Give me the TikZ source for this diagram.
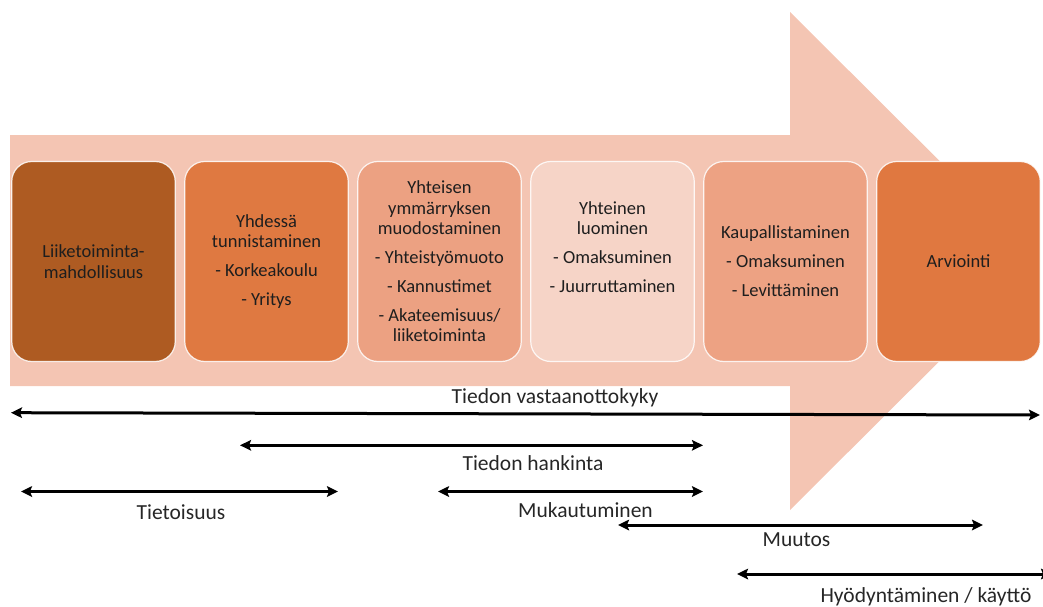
\documentclass[tikz,border=0pt]{standalone}
\usepackage{fontspec}
\setmainfont{Carlito}
\usetikzlibrary{arrows.meta}

\definecolor{arrowbg}{HTML}{F4C5B3}
\definecolor{stepA}{HTML}{AE5B22}
\definecolor{stepB}{HTML}{DF7941}
\definecolor{stepC}{HTML}{ECA182}
\definecolor{stepD}{HTML}{F6D4C7}
\definecolor{stepE}{HTML}{EDA283}
\definecolor{stepF}{HTML}{E07840}
\definecolor{ink}{HTML}{1E1E1E}
\definecolor{labelink}{HTML}{262626}

\tikzset{
  phase/.style={draw=white, draw opacity=0.85, line width=1.2pt,
    rounded corners=20pt, minimum width=163.5pt, minimum height=200pt,
    inner sep=0pt},
  phasetext/.style={align=center, text=ink, inner sep=0pt,
    font=\fontsize{18.5}{20.3}\selectfont},
  tipshape/.tip={Stealth[length=11pt,width=10.5pt,inset=2pt]},
  span/.style={line width=3pt, tipshape-tipshape},
  spanlabel/.style={text=labelink, inner sep=0pt, font=\fontsize{21.5}{24}\selectfont}
}

\begin{document}
\begin{tikzpicture}[x=1pt, y=-1pt]
  \useasboundingbox (0,0) rectangle (1043,607);

  % Large background arrow
  \fill[arrowbg] (10,135) -- (790,135) -- (790,12) -- (1040,261)
    -- (790,510) -- (790,386) -- (10,386) -- cycle;

  % Phase boxes
  \node[phase, fill=stepA] (b1) at (93.5,261.5) {};
  \node[phase, fill=stepB] (b2) at (266.5,261.5) {};
  \node[phase, fill=stepC] (b3) at (439.5,261.5) {};
  \node[phase, fill=stepD] (b4) at (612.5,261.5) {};
  \node[phase, fill=stepE] (b5) at (785.5,261.5) {};
  \node[phase, fill=stepF] (b6) at (958.5,261.5) {};

  % Phase texts
  \node[phasetext] (t1) at (b1.center) {Liiketoiminta-\\mahdollisuus};
  \node[phasetext] (t2) at (b2.center) {Yhdessä\\tunnistaminen\\[8.7pt]- Korkeakoulu\\[8.7pt]- Yritys};
  \node[phasetext] (t3) at (b3.center) {Yhteisen\\ymmärryksen\\muodostaminen\\[8.7pt]- Yhteistyömuoto\\[8.7pt]- Kannustimet\\[8.7pt]- Akateemisuus/\\liiketoiminta};
  \node[phasetext] (t4) at ([yshift=14.5pt]b4.center) {Yhteinen\\luominen\\[8.7pt]- Omaksuminen\\[8.7pt]- Juurruttaminen};
  \node[phasetext] (t5) at (b5.center) {Kaupallistaminen\\[8.7pt]- Omaksuminen\\[8.7pt]- Levittäminen};
  \node[phasetext] (t6) at (b6.center) {Arviointi};

  % Span end points
  \coordinate (s1a) at (11,412.7);  \coordinate (s1b) at (1040,415);
  \coordinate (s2a) at (240,445.3); \coordinate (s2b) at (703,445.3);
  \coordinate (s3a) at (21,491.5);  \coordinate (s3b) at (338,491.5);
  \coordinate (s4a) at (438,491.5); \coordinate (s4b) at (703,491.5);
  \coordinate (s5a) at (618,525);   \coordinate (s5b) at (983,525);
  \coordinate (s6a) at (737,574);   \coordinate (s6b) at (1052,574);

  % Spans
  \draw[span] (s1a) -- (s1b);
  \draw[span] (s2a) -- (s2b);
  \draw[span] (s3a) -- (s3b);
  \draw[span] (s4a) -- (s4b);
  \draw[span] (s5a) -- (s5b);
  \draw[span] (s6a) -- (s6b);

  % Span labels
  \node[spanlabel] (l1) at (555,398) {Tiedon vastaanottokyky};
  \node[spanlabel] (l2) at (533,463.5) {Tiedon hankinta};
  \node[spanlabel] (l3) at (181,512) {Tietoisuus};
  \node[spanlabel] (l4) at (585.5,510) {Mukautuminen};
  \node[spanlabel] (l5) at (796.5,540) {Muutos};
  \node[spanlabel] (l6) at (926,597) {Hyödyntäminen / käyttö};
\end{tikzpicture}
\end{document}
